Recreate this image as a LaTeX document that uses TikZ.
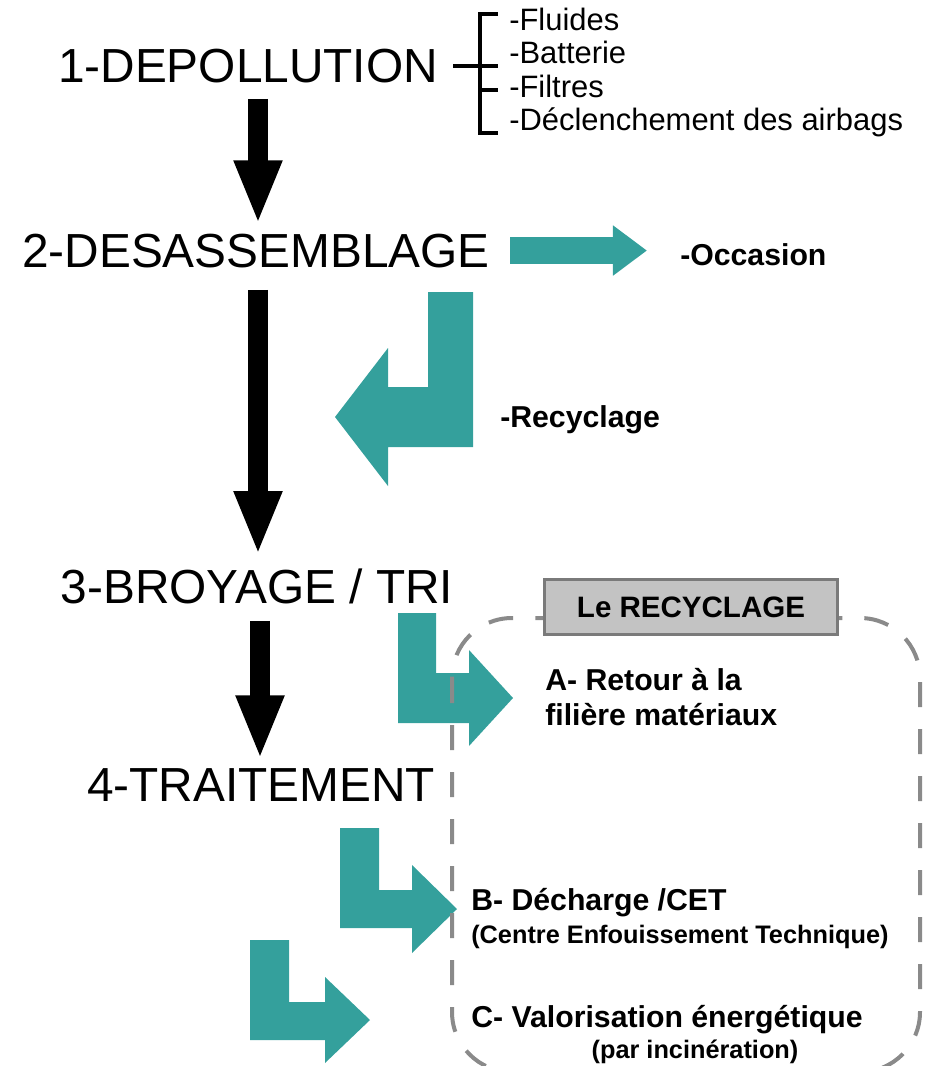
\documentclass[tikz,border=0pt]{standalone}
\usepackage{fontspec}
\setmainfont{Liberation Sans}
\usetikzlibrary{arrows.meta,calc}
\definecolor{bleuvert}{RGB}{52,160,156}
\definecolor{tirets}{RGB}{138,138,138}
\definecolor{bordgris}{RGB}{122,122,122}
\definecolor{fondgris}{RGB}{195,195,195}

\begin{document}
\begin{tikzpicture}[x=0.025cm,y=-0.025cm,
  titre/.style={anchor=base,inner sep=0pt,font=\fontsize{34}{40}\selectfont},
  liste/.style={anchor=base west,inner sep=0pt,font=\fontsize{22}{26}\selectfont},
  etiq/.style={anchor=west,inner sep=0pt,font=\bfseries\fontsize{21.5}{25}\selectfont},
  petit/.style={inner sep=0pt,font=\bfseries\fontsize{18}{21}\selectfont},
  boite/.style={draw=bordgris,fill=fondgris,line width=0.075cm,minimum width=7.3cm,minimum height=1.375cm,inner sep=0pt,font=\bfseries\fontsize{21}{25}\selectfont},
  fleche/.style={line width=0.5cm,-{Triangle[length=1.6cm,width=1.1cm]}},
  flechev/.style={bleuvert,line width=0.675cm,-{Triangle[length=0.85cm,width=1.2cm]}},
  bloc/.style={fill=bleuvert},
  crochet/.style={line width=0.1cm}]
\useasboundingbox (0,0) rectangle (933,1066);
\clip (0,0) rectangle (933,1066);

\node[titre] (t1) at (248,82) {1-DEPOLLUTION};
\node[titre] (t2) at (256,267) {2-DESASSEMBLAGE};
\node[titre] (t3) at (257,603) {3-BROYAGE / TRI};
\node[titre] (t4) at (261,801) {4-TRAITEMENT};

\node[liste] (l1) at (509,30) {-Fluides};
\node[liste] (l2) at (509,63) {-Batterie};
\node[liste] (l3) at (509,97) {-Filtres};
\node[liste] (l4) at (509,130) {-Déclenchement des airbags};
\draw[crochet] ($(t1.east)+(15,0)$) -- ++(27,0) coordinate (br) -- ++(18,0);
\draw[crochet] (498,14) -| (480,133) -- (498,133);
\draw[crochet] (480,90) -- (498,90);

\coordinate (axe) at (258,0);
\coordinate (axeb) at (260,0);
\draw[fleche,shorten <=0.4cm,shorten >=0.225cm] (t1.south -| axe) -- (t2.north -| axe);
\draw[fleche,shorten <=0.55cm,shorten >=0.325cm] (t2.south -| axe) -- (t3.north -| axe);
\draw[fleche,shorten <=0.425cm,shorten >=0.21cm] (t3.south -| axeb) -- (t4.north -| axeb);

\node[etiq] (occ) at (680,255) {-Occasion};
\node[etiq] (recy) at (500,420) {-Recyclage};
\draw[flechev,shorten <=0.5cm,shorten >=0.825cm] (t2.east) -- (t2.east -| occ.west);

\fill[bloc] (428,292) -- (473,292) -- (473,447) -- (388,447) -- (388,486) -- (335,417) -- (388,348) -- (388,387) -- (428,387) -- cycle;
\fill[bloc] (398,613) -- (436,613) -- (436,673) -- (469,673) -- (469,650) -- (513,698) -- (469,746) -- (469,723) -- (398,723) -- cycle;
\fill[bloc] (340,828) -- (379,828) -- (379,890) -- (412,890) -- (412,865) -- (457,909) -- (412,953) -- (412,928) -- (340,928) -- cycle;
\fill[bloc] (250,940) -- (289,940) -- (289,1002) -- (325,1002) -- (325,977) -- (370,1020) -- (325,1063) -- (325,1040) -- (250,1040) -- cycle;

\draw[tirets,line width=0.1cm,dash pattern=on 0.625cm off 0.55cm,rounded corners=1.5cm] (452,618) rectangle (920,1072);
\node[boite] (rec) at (691,607) {Le RECYCLAGE};

\node[etiq,align=left] (matA) at (545,697) {A- Retour à la\\filière matériaux};
\node[etiq] (matB) at (471,903) {B- Décharge /CET};
\node[petit,anchor=west] (cet) at (471,937) {(Centre Enfouissement Technique)};
\node[etiq] (valC) at (471,1020) {C- Valorisation énergétique};
\node[petit] (inc) at (695,1052) {(par incinération)};
\end{tikzpicture}
\end{document}
